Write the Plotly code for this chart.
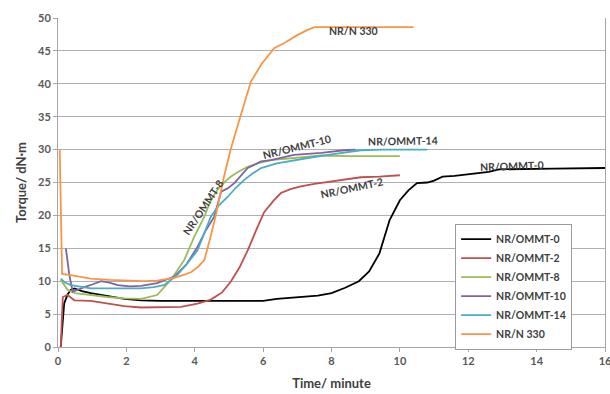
import plotly.graph_objects as go

# ---- data ----
black_x = [0.08, 0.12, 0.18, 0.28, 0.38, 0.48, 0.7, 0.96, 1.45, 1.94, 2.43, 3.0, 4.0, 5.0, 6.0, 6.4, 7.0, 7.6, 8.0, 8.4, 8.8, 9.1, 9.4, 9.7, 10.0, 10.25, 10.5, 10.8, 11.0, 11.25, 11.6, 12.2, 12.6, 12.9, 13.5, 14.5, 16.0]
black_y = [0, 3, 6.6, 8.0, 8.7, 8.9, 8.5, 8.2, 7.8, 7.3, 7.1, 7.0, 7.0, 7.0, 7.0, 7.3, 7.5, 7.8, 8.2, 9.0, 10.0, 11.5, 14.2, 19.3, 22.3, 23.8, 24.9, 25.0, 25.3, 25.9, 26.0, 26.3, 26.6, 27.0, 27.0, 27.1, 27.2]

red_x = [0.08, 0.12, 0.14, 0.28, 0.48, 0.96, 1.4, 1.94, 2.43, 3.0, 3.6, 4.08, 4.47, 4.8, 5.06, 5.3, 5.55, 5.8, 6.03, 6.3, 6.52, 6.8, 7.1, 7.5, 7.9, 8.4, 8.86, 9.4, 10.0]
red_y = [0, 4, 7.6, 7.9, 7.1, 7.0, 6.6, 6.2, 6.0, 6.0, 6.1, 6.6, 7.2, 8.3, 10.0, 12.0, 14.7, 17.8, 20.5, 22.2, 23.4, 24.0, 24.4, 24.8, 25.1, 25.4, 25.8, 25.9, 26.1]

green_x = [0.08, 0.28, 0.5, 0.96, 1.45, 1.94, 2.43, 2.9, 3.3, 3.69, 3.99, 4.28, 4.47, 4.67, 4.9, 5.06, 5.3, 5.55, 5.9, 6.23, 7.0, 7.7, 8.5, 9.2, 10.0]
green_y = [10.2, 8.7, 8.2, 7.9, 7.6, 7.4, 7.3, 7.9, 10.2, 13.2, 16.8, 19.8, 22.3, 23.9, 25.2, 25.9, 26.7, 27.4, 28.0, 28.4, 28.8, 29.1, 29.0, 29.0, 29.0]

purple_x = [0.23, 0.33, 0.43, 0.6, 0.77, 1.0, 1.26, 1.5, 1.75, 2.1, 2.43, 2.9, 3.4, 3.75, 4.08, 4.3, 4.57, 4.77, 4.96, 5.16, 5.35, 5.55, 5.94, 6.23, 6.9, 7.7, 8.37, 8.7]
purple_y = [15, 11, 8.4, 8.8, 9.1, 9.5, 10.0, 9.8, 9.4, 9.2, 9.3, 9.7, 10.7, 12.5, 15.2, 17.5, 19.8, 23.6, 24.1, 24.9, 26.1, 27.2, 28.2, 28.4, 29.2, 29.5, 29.9, 30.0]

cyan_x = [0.08, 0.2, 0.38, 0.96, 1.5, 2.0, 2.43, 2.8, 3.1, 3.5, 3.8, 4.08, 4.3, 4.47, 4.7, 4.96, 5.2, 5.45, 5.7, 5.94, 6.4, 6.91, 7.4, 7.9, 8.4, 8.86, 9.5, 10.2, 10.8]
cyan_y = [10.4, 9.8, 9.4, 8.9, 8.9, 8.9, 8.9, 9.1, 9.4, 11.0, 12.8, 14.7, 17.5, 19.8, 21.5, 22.8, 24.2, 25.4, 26.4, 27.2, 27.9, 28.4, 28.8, 29.2, 29.6, 29.9, 30.0, 30.0, 30.0]

orange_x = [0.05, 0.09, 0.12, 0.5, 0.96, 1.5, 1.94, 2.5, 2.9, 3.4, 3.7, 3.9, 4.1, 4.28, 4.45, 4.62, 4.86, 5.06, 5.35, 5.64, 5.94, 6.32, 6.62, 7.0, 7.3, 7.5, 8.5, 9.5, 10.4]
orange_y = [30, 15, 11.1, 10.8, 10.4, 10.2, 10.1, 10.0, 10.1, 10.5, 11.0, 11.4, 12.2, 13.2, 16.5, 20.1, 26.0, 30.2, 35.3, 40.3, 42.9, 45.4, 46.2, 47.4, 48.2, 48.6, 48.6, 48.6, 48.6]

series_names = ["NR/OMMT-0", "NR/OMMT-2", "NR/OMMT-8", "NR/OMMT-10", "NR/OMMT-14", "NR/N 330"]
series_colors = ["#000000", "#C0504D", "#9BBB59", "#8064A2", "#4BACC6", "#F79646"]

# annotation labels: (text, x, y, angle)
label_text = ["NR/N 330", "NR/OMMT-0", "NR/OMMT-14", "NR/OMMT-10", "NR/OMMT-2", "NR/OMMT-8"]
label_x = [8.65, 13.28, 10.08, 6.98, 8.6, 4.25]
label_y = [48.0, 27.5, 31.3, 30.4, 24.2, 21.3]
label_angle = [0, -2, -1, -14, -12, -56]

xs = [black_x, red_x, green_x, purple_x, cyan_x, orange_x]
ys = [black_y, red_y, green_y, purple_y, cyan_y, orange_y]

FONT = "Lato"
fig = go.Figure()
for name, col, x, y in zip(series_names, series_colors, xs, ys):
    fig.add_trace(go.Scatter(x=x, y=y, mode="lines", name=name,
                             line=dict(color=col, width=1.8)))

for t, x, y, a in zip(label_text, label_x, label_y, label_angle):
    fig.add_annotation(x=x, y=y, text="<b>%s</b>" % t, showarrow=False,
                       textangle=a, font=dict(family=FONT, size=10.5, color="#404040"))

fig.update_layout(
    width=610, height=394,
    margin=dict(l=58, r=5, t=18, b=47, autoexpand=False),
    paper_bgcolor="white", plot_bgcolor="white",
    font=dict(family=FONT, color="#595959"),
    legend=dict(x=0.726, y=0.375, xanchor="left", yanchor="top",
                bordercolor="#9a9a9a", borderwidth=1, bgcolor="white",
                font=dict(family=FONT, size=10.5, color="#404040", weight="bold"),
                tracegroupgap=0),
    xaxis=dict(range=[0, 16], dtick=2, tick0=0, showgrid=False, automargin=False,
               showline=True, linecolor="#a6a6a6", linewidth=1,
               ticks="outside", ticklen=4, tickcolor="#a6a6a6",
               ticklabeloverflow="allow",
               tickfont=dict(family=FONT, size=11, color="#595959", weight="bold"),
               title=dict(text="<b>Time/ minute</b>", font=dict(family=FONT, size=13, color="#404040"), standoff=12),
               zeroline=False),
    yaxis=dict(range=[0, 50], dtick=5, tick0=0, showgrid=True, gridcolor="#b0b0b0", gridwidth=1,
               automargin=False,
               showline=True, linecolor="#a6a6a6", linewidth=1, mirror=True,
               ticks="outside", ticklen=4, tickcolor="#a6a6a6",
               tickfont=dict(family=FONT, size=11, color="#595959", weight="bold"),
               title=dict(text="<b>Torque/ dN·m</b>", font=dict(family=FONT, size=13, color="#404040"), standoff=8),
               zeroline=False),
)

fig.write_html("out.html", config={"displayModeBar": False},
               post_script="document.body.style.margin='0';document.body.style.padding='0';document.body.style.overflow='hidden';")
